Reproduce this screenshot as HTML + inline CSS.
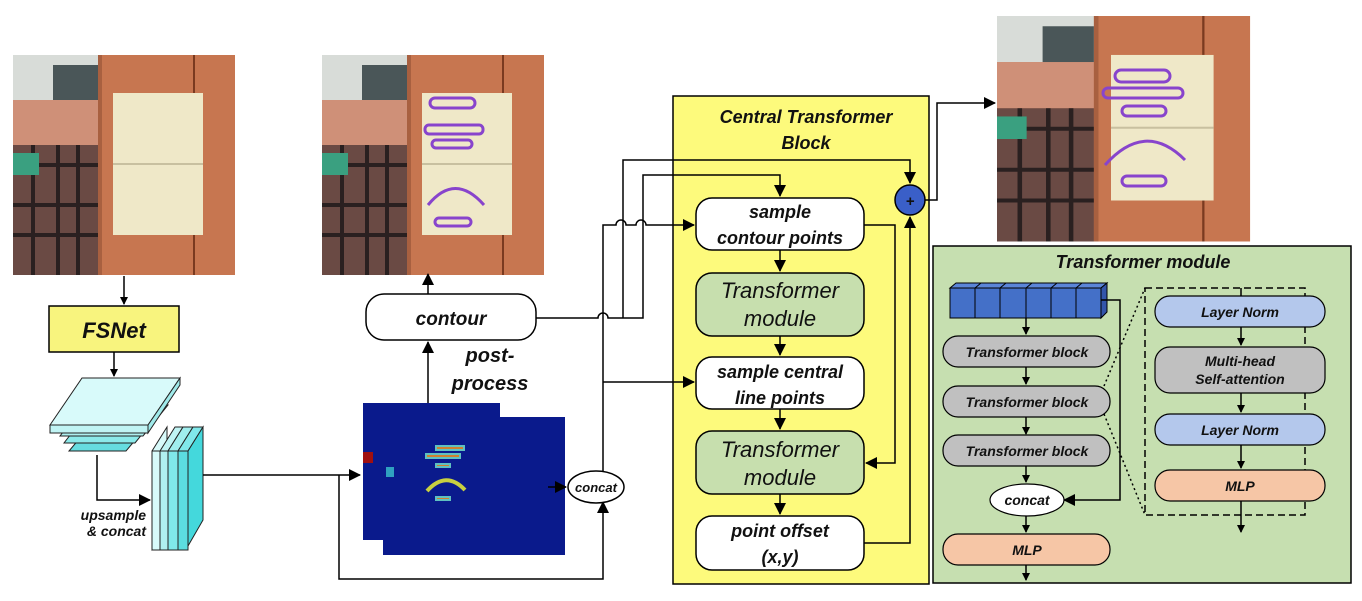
<!DOCTYPE html>
<html><head><meta charset="utf-8"><style>
body{margin:0;background:#fff}
svg text{font-family:"Liberation Sans","DejaVu Sans",sans-serif;font-style:italic;font-weight:bold;fill:#111}
</style></head><body>
<svg width="1362" height="596" viewBox="0 0 1362 596" xmlns="http://www.w3.org/2000/svg">
<defs>
<marker id="a" markerWidth="8" markerHeight="8" refX="7" refY="4" orient="auto" markerUnits="userSpaceOnUse"><path d="M0,0 L8,4 L0,8z" fill="#000"/></marker>
<marker id="b" markerWidth="12" markerHeight="12" refX="11" refY="6" orient="auto" markerUnits="userSpaceOnUse"><path d="M0,0 L12,6 L0,12z" fill="#000"/></marker>
<g id="photo">
<rect x="0" y="0" width="222" height="220" fill="#c77650"/>
<rect x="0" y="0" width="85" height="45" fill="#d8dcd8"/>
<rect x="40" y="10" width="45" height="35" fill="#4a5658"/>
<rect x="0" y="45" width="85" height="45" fill="#cf9078"/>
<rect x="0" y="90" width="85" height="130" fill="#6a4a44"/>
<path d="M0,110 H85 M0,150 H85 M0,180 H85 M20,90 V220 M45,90 V220 M65,90 V220" stroke="#2a2020" stroke-width="4"/>
<rect x="0" y="98" width="26" height="22" fill="#3aa080"/>
<rect x="85" y="0" width="4" height="220" fill="#a86040"/>
<rect x="180" y="0" width="2" height="220" fill="#7a3a20"/>
<rect x="100" y="38" width="90" height="142" fill="#efe8c8"/>
<rect x="100" y="108" width="90" height="2" fill="#c8c0a0"/>
</g>
</defs>

<use href="#photo" transform="translate(13,55)"/>
<use href="#photo" transform="translate(322,55)"/>
<g fill="none" stroke="#8844cc" stroke-width="3">
<rect x="430" y="98" width="45" height="10" rx="5"/><rect x="425" y="125" width="58" height="9" rx="4"/><rect x="432" y="140" width="40" height="8" rx="4"/>
<path d="M428,205 Q455,172 484,205"/><rect x="435" y="218" width="36" height="8" rx="4"/>
</g>
<use href="#photo" transform="translate(997,16) scale(1.14,1.025)"/>
<g fill="none" stroke="#8844cc" stroke-width="3">
<rect x="1115" y="70" width="55" height="12" rx="6"/><rect x="1103" y="88" width="80" height="10" rx="5"/><rect x="1122" y="106" width="44" height="10" rx="5"/>
<path d="M1105,165 Q1145,120 1185,160"/><rect x="1122" y="176" width="44" height="10" rx="5"/>
</g>

<path d="M124,276 V304" stroke="#000" stroke-width="1.5" marker-end="url(#a)"/>
<rect x="49" y="306" width="130" height="46" fill="#f8f47e" stroke="#000" stroke-width="1.5"/>
<text x="114" y="338" font-size="22" text-anchor="middle">FSNet</text>
<path d="M114,352 V376" stroke="#000" stroke-width="1.5" marker-end="url(#a)"/>
<g stroke="#222" stroke-width="1">
<path d="M69,451 H126 L152,420 H95z" fill="#66dde0"/>
<path d="M64,443 H135 L160,412 H88z" fill="#8ceaea"/>
<path d="M60,436 H143 L168,405 H84z" fill="#aef0f0"/>
<path d="M50,425 H148 L180,378 H82z" fill="#d8fafa"/>
<rect x="50" y="425" width="98" height="8" fill="#c0f4f4"/>
<path d="M148,425 L180,378 V385 L148,433z" fill="#a0eaea"/>
</g>
<path d="M97,455 V500 H150" stroke="#000" stroke-width="1.5" fill="none" marker-end="url(#b)"/>
<text x="146" y="520" font-size="14" text-anchor="end">upsample</text>
<text x="146" y="536" font-size="14" text-anchor="end">&amp; concat</text>
<g stroke="#222" stroke-width="1">
<path d="M152,451 L167,427 V540 L152,550z" fill="#d8fafa"/>
<rect x="152" y="451" width="8" height="99" fill="#d8fafa"/>
<path d="M160,451 L175,427 H183 L168,451z" fill="#c0f4f4"/>
<rect x="160" y="451" width="8" height="99" fill="#b0f0f0"/>
<path d="M168,451 L183,427 H193 L178,451z" fill="#a0eeee"/>
<rect x="168" y="451" width="10" height="99" fill="#80e8ea"/>
<path d="M178,451 L193,427 H203 L188,451z" fill="#80e8ea"/>
<rect x="178" y="451" width="10" height="99" fill="#5cdde0"/>
<path d="M188,451 L203,427 V520 L188,546z" fill="#44d8dc"/>
</g>
<path d="M203,475 H360" stroke="#000" stroke-width="1.5" marker-end="url(#b)"/>
<path d="M339,475 V579 H603 V502" stroke="#000" stroke-width="1.5" fill="none" marker-end="url(#b)"/>

<rect x="363" y="403" width="137" height="137" fill="#0a1a8c"/>
<rect x="383" y="417" width="182" height="138" fill="#0a1a8c"/>
<rect x="363" y="452" width="10" height="11" fill="#a01010"/>
<rect x="386" y="467" width="8" height="10" fill="#30a0c0"/>
<g fill="#d08030" stroke="#60c0c0" stroke-width="2">
<rect x="436" y="446" width="28" height="4"/><rect x="426" y="454" width="34" height="4"/><rect x="436" y="464" width="14" height="3"/><rect x="436" y="497" width="14" height="3"/>
</g>
<path d="M427,491 Q446,470 465,490" stroke="#c8d040" stroke-width="4" fill="none"/>
<path d="M428,403 V342" stroke="#000" stroke-width="1.5" marker-end="url(#b)"/>
<text x="490" y="362" font-size="20" text-anchor="middle">post-</text>
<text x="490" y="390" font-size="20" text-anchor="middle">process</text>

<path d="M428,294 V274" stroke="#000" stroke-width="1.5" marker-end="url(#b)"/>
<rect x="366" y="294" width="170" height="46" rx="18" fill="#fff" stroke="#000" stroke-width="1.5"/>
<text x="451" y="325" font-size="19" text-anchor="middle">contour</text>

<path d="M548,487 H566" stroke="#000" stroke-width="1.5" marker-end="url(#b)"/>
<ellipse cx="596" cy="487" rx="28" ry="16" fill="#fff" stroke="#000" stroke-width="1.5"/>
<text x="596" y="492" font-size="13" text-anchor="middle">concat</text>

<rect x="673" y="96" width="256" height="488" fill="#fdfa7c" stroke="#000" stroke-width="1.5"/>
<text x="806" y="123" font-size="18" text-anchor="middle">Central Transformer</text>
<text x="806" y="149" font-size="18" text-anchor="middle">Block</text>

<g stroke="#000" stroke-width="1.5" fill="none">
<path d="M603,471 V225 H616 a5,5 0 0 1 10,0 H636 a5,5 0 0 1 10,0 H694" marker-end="url(#b)"/>
<path d="M536,318 H598 a5,5 0 0 1 10,0 H643 V175 H780 V196" marker-end="url(#b)"/>
<path d="M623,318 V160 H910 V183" marker-end="url(#b)"/>
<path d="M603,382 H694" marker-end="url(#b)"/>
<path d="M864,225 H895 V463 H866" marker-end="url(#b)"/>
<path d="M864,543 H910 V217" marker-end="url(#b)"/>
<path d="M925,200 H937 V103 H995" marker-end="url(#b)"/>
<path d="M780,250 V271" marker-end="url(#b)"/>
<path d="M780,336 V355" marker-end="url(#b)"/>
<path d="M780,409 V429" marker-end="url(#b)"/>
<path d="M780,494 V514" marker-end="url(#b)"/>
</g>
<circle cx="910" cy="200" r="15" fill="#3a5fc8" stroke="#000" stroke-width="1.5"/>
<text x="910" y="206" font-size="15" text-anchor="middle">+</text>

<g stroke="#000" stroke-width="1.5">
<rect x="696" y="198" width="168" height="52" rx="16" fill="#fff"/>
<rect x="696" y="273" width="168" height="63" rx="16" fill="#c7dfae"/>
<rect x="696" y="357" width="168" height="52" rx="16" fill="#fff"/>
<rect x="696" y="431" width="168" height="63" rx="16" fill="#c7dfae"/>
<rect x="696" y="516" width="168" height="54" rx="16" fill="#fff"/>
</g>
<g font-size="18" text-anchor="middle">
<text x="780" y="218">sample</text><text x="780" y="244">contour points</text>
<text x="780" y="378">sample central</text><text x="780" y="404">line points</text>
<text x="780" y="537">point offset</text><text x="780" y="563">(x,y)</text>
</g>
<g font-size="22" text-anchor="middle">
<text x="780" y="298" style="font-weight:normal">Transformer</text><text x="780" y="326" style="font-weight:normal">module</text>
<text x="780" y="457" style="font-weight:normal">Transformer</text><text x="780" y="485" style="font-weight:normal">module</text>
</g>

<rect x="933" y="246" width="418" height="337" fill="#c6dfb0" stroke="#000" stroke-width="1.5"/>
<text x="1143" y="268" font-size="18" text-anchor="middle">Transformer module</text>
<g stroke="#000" stroke-width="1">
<path d="M950,288 l6,-5 H1107 l-6,5z" fill="#5b85d8"/>
<path d="M1101,288 l6,-5 V312 l-6,6z" fill="#3355aa"/>
<rect x="950" y="288" width="151" height="30" fill="#4470c8"/>
<path d="M975,288 V318 M1000,288 V318 M1026,288 V318 M1051,288 V318 M1076,288 V318"/>
<path d="M975,288 l6,-5 M1000,288 l6,-5 M1026,288 l6,-5 M1051,288 l6,-5 M1076,288 l6,-5"/>
</g>
<g stroke="#000" stroke-width="1.5" fill="none">
<path d="M1026,318 V334" marker-end="url(#a)"/>
<path d="M1026,367 V384" marker-end="url(#a)"/>
<path d="M1026,417 V434" marker-end="url(#a)"/>
<path d="M1026,466 V482" marker-end="url(#a)"/>
<path d="M1026,508 V532" marker-end="url(#a)"/>
<path d="M1026,565 V580" marker-end="url(#a)"/>
<path d="M1101,300 H1120 V500 H1064" marker-end="url(#b)"/>
<path d="M1241,288 V305" marker-end="url(#a)"/>
<path d="M1241,326 V345" marker-end="url(#a)"/>
<path d="M1241,393 V412" marker-end="url(#a)"/>
<path d="M1241,445 V468" marker-end="url(#a)"/>
<path d="M1241,501 V532" marker-end="url(#a)"/>
<rect x="1145" y="288" width="160" height="227" stroke-dasharray="7,4"/>
<path d="M1104,386 L1145,288 M1104,414 L1145,515" stroke-dasharray="2,3"/>
</g>
<g stroke="#000" stroke-width="1.2">
<rect x="943" y="336" width="167" height="31" rx="15" fill="#c0c0c0"/>
<rect x="943" y="386" width="167" height="31" rx="15" fill="#c0c0c0"/>
<rect x="943" y="435" width="167" height="31" rx="15" fill="#c0c0c0"/>
<ellipse cx="1027" cy="500" rx="37" ry="16" fill="#fff"/>
<rect x="943" y="534" width="167" height="31" rx="15" fill="#f6c6a6"/>
<rect x="1155" y="296" width="170" height="31" rx="15" fill="#b4c8ec"/>
<rect x="1155" y="347" width="170" height="46" rx="15" fill="#c0c0c0"/>
<rect x="1155" y="414" width="170" height="31" rx="15" fill="#b4c8ec"/>
<rect x="1155" y="470" width="170" height="31" rx="15" fill="#f6c6a6"/>
</g>
<g font-size="14" text-anchor="middle">
<text x="1027" y="357">Transformer block</text>
<text x="1027" y="407">Transformer block</text>
<text x="1027" y="456">Transformer block</text>
<text x="1027" y="505">concat</text>
<text x="1027" y="555">MLP</text>
<text x="1240" y="317">Layer Norm</text>
<text x="1240" y="366">Multi-head</text>
<text x="1240" y="384">Self-attention</text>
<text x="1240" y="435">Layer Norm</text>
<text x="1240" y="491">MLP</text>
</g>
</svg>
</body></html>
